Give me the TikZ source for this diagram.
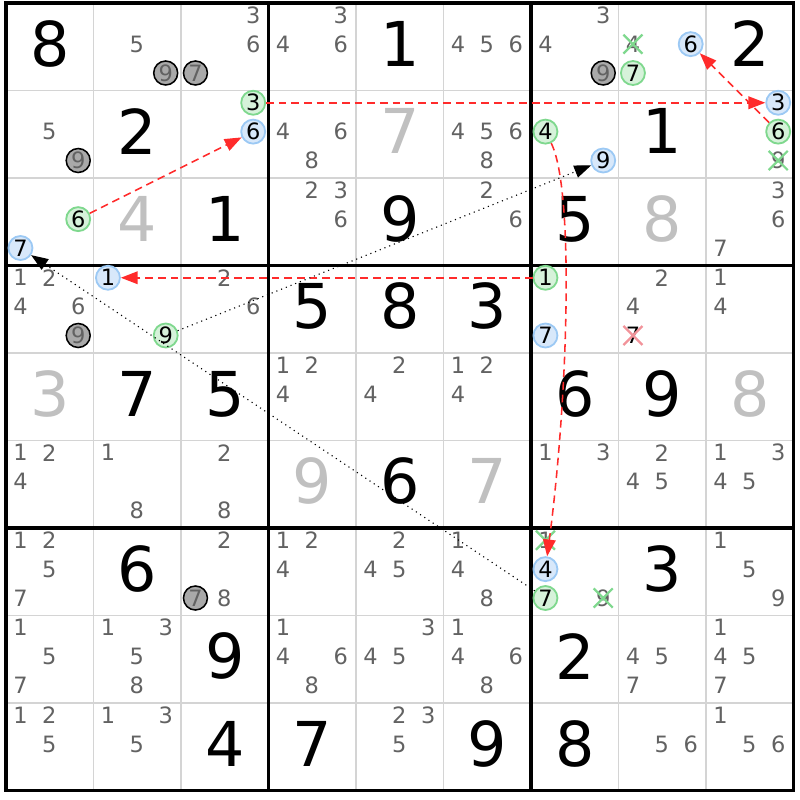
\documentclass[tikz,border=0pt]{standalone}
\usepackage{fontspec}
\setmainfont{DejaVu Sans}
\usetikzlibrary{arrows.meta,shapes.misc}
\definecolor{pencil}{HTML}{626262}
\definecolor{solved}{HTML}{C0C0C0}
\definecolor{gridgray}{HTML}{D4D4D4}
\definecolor{greenline}{HTML}{7FD88E}
\definecolor{greenfill}{HTML}{D6F2DA}
\definecolor{blueline}{HTML}{9CC9F4}
\definecolor{bluefill}{HTML}{D8E8FA}
\definecolor{chaingray}{HTML}{A9A9A9}
\definecolor{linkred}{HTML}{FF2B2B}
\definecolor{crossred}{HTML}{F2939A}
\begin{document}
\begin{tikzpicture}[x=2.1875cm,y=-2.1875cm,
    given/.style={font=\fontsize{44}{44}\selectfont,text=black,inner sep=0pt,yshift=2pt},
    placed/.style={given,text=solved},
    cand/.style={font=\fontsize{16}{16}\selectfont,text=pencil,inner sep=0pt},
    greencand/.style={cand,text=black,circle,draw=greenline,fill=greenfill,line width=1.3pt,minimum size=0.6cm},
    bluecand/.style={greencand,draw=blueline,fill=bluefill},
    graycand/.style={cand,circle,draw=black,fill=chaingray,line width=1.1pt,minimum size=0.6cm},
    greenx/.style={cand,cross out,draw=greenline,line width=1.6pt,minimum size=0.42cm},
    redx/.style={cand,text=black,cross out,draw=crossred,line width=1.6pt,minimum size=0.42cm},
    strong/.style={draw=linkred,line width=1.1pt,dash pattern=on 5.5pt off 3.5pt,-{Triangle[length=12pt,width=9pt]}},
    weak/.style={draw=black,line width=0.8pt,dash pattern=on 0.8pt off 2.8pt,-{Triangle[length=12pt,width=9pt]}}]
  \useasboundingbox (-0.0686,-0.0343) rectangle (9.0743,9.1086);
  % grid
  \foreach \i in {1,2,4,5,7,8} {
    \draw[gridgray,line width=1.4pt] (\i,0) -- (\i,9);
    \draw[gridgray,line width=1.4pt] (0,\i) -- (9,\i);
  }
  \foreach \i in {0,3,6,9} {
    \draw[black,line width=2.2pt] (\i,0) -- (\i,9);
    \draw[black,line width=2.2pt] (0,\i) -- (9,\i);
  }
  \draw[black,line width=2.2pt] (0,0) rectangle (9,9);
  % values
  \foreach \r/\c/\d in {1/1/8,1/5/1,1/9/2,2/2/2,2/8/1,3/3/1,3/5/9,3/7/5,
      4/4/5,4/5/8,4/6/3,5/2/7,5/3/5,5/7/6,5/8/9,6/5/6,7/2/6,7/8/3,
      8/3/9,8/7/2,9/3/4,9/4/7,9/6/9,9/7/8}
    \node[given] (v\r\c) at (\c-0.5,\r-0.5) {\d};
  \foreach \r/\c/\d in {2/5/7,3/2/4,3/8/8,5/1/3,5/9/8,6/4/9,6/6/7}
    \node[placed] (v\r\c) at (\c-0.5,\r-0.5) {\d};
  % candidates
  \foreach \r/\c/\n/\s in {
      1/2/5/cand,1/2/9/graycand,1/3/3/cand,1/3/6/cand,1/3/7/graycand,
      1/4/3/cand,1/4/4/cand,1/4/6/cand,1/6/4/cand,1/6/5/cand,1/6/6/cand,
      1/7/3/cand,1/7/4/cand,1/7/9/graycand,1/8/4/greenx,1/8/6/bluecand,1/8/7/greencand,
      2/1/5/cand,2/1/9/graycand,2/3/3/greencand,2/3/6/bluecand,
      2/4/4/cand,2/4/6/cand,2/4/8/cand,2/6/4/cand,2/6/5/cand,2/6/6/cand,2/6/8/cand,
      2/7/4/greencand,2/7/9/bluecand,2/9/3/bluecand,2/9/6/greencand,2/9/9/greenx,
      3/1/6/greencand,3/1/7/bluecand,3/4/2/cand,3/4/3/cand,3/4/6/cand,
      3/6/2/cand,3/6/6/cand,3/9/3/cand,3/9/6/cand,3/9/7/cand,
      4/1/1/cand,4/1/2/cand,4/1/4/cand,4/1/6/cand,4/1/9/graycand,
      4/2/1/bluecand,4/2/9/greencand,4/3/2/cand,4/3/6/cand,
      4/7/1/greencand,4/7/7/bluecand,4/8/2/cand,4/8/4/cand,4/8/7/redx,
      4/9/1/cand,4/9/4/cand,
      5/4/1/cand,5/4/2/cand,5/4/4/cand,5/5/2/cand,5/5/4/cand,
      5/6/1/cand,5/6/2/cand,5/6/4/cand,
      6/1/1/cand,6/1/2/cand,6/1/4/cand,6/2/1/cand,6/2/8/cand,6/3/2/cand,6/3/8/cand,
      6/7/1/cand,6/7/3/cand,6/8/2/cand,6/8/4/cand,6/8/5/cand,
      6/9/1/cand,6/9/3/cand,6/9/4/cand,6/9/5/cand,
      7/1/1/cand,7/1/2/cand,7/1/5/cand,7/1/7/cand,
      7/3/2/cand,7/3/7/graycand,7/3/8/cand,
      7/4/1/cand,7/4/2/cand,7/4/4/cand,7/5/2/cand,7/5/4/cand,7/5/5/cand,
      7/6/1/cand,7/6/4/cand,7/6/8/cand,
      7/7/1/greenx,7/7/4/bluecand,7/7/7/greencand,7/7/9/greenx,
      7/9/1/cand,7/9/5/cand,7/9/9/cand,
      8/1/1/cand,8/1/5/cand,8/1/7/cand,8/2/1/cand,8/2/3/cand,8/2/5/cand,8/2/8/cand,
      8/4/1/cand,8/4/4/cand,8/4/6/cand,8/4/8/cand,8/5/3/cand,8/5/4/cand,8/5/5/cand,
      8/6/1/cand,8/6/4/cand,8/6/6/cand,8/6/8/cand,8/8/4/cand,8/8/5/cand,8/8/7/cand,
      8/9/1/cand,8/9/4/cand,8/9/5/cand,8/9/7/cand,
      9/1/1/cand,9/1/2/cand,9/1/5/cand,9/2/1/cand,9/2/3/cand,9/2/5/cand,
      9/5/2/cand,9/5/3/cand,9/5/5/cand,9/8/5/cand,9/8/6/cand,
      9/9/1/cand,9/9/5/cand,9/9/6/cand} {
    \pgfmathsetmacro\px{\c-0.835+0.33*mod(\n-1,3)}
    \pgfmathsetmacro\py{\r-0.86+0.33*int((\n-1)/3)}
    \node[\s] (p\r\c\n) at (\px,\py) {\n};
  }
  % links
  \draw[strong] (p316) -- (p236);
  \draw[strong] (p233) -- (p293);
  \draw[strong] (p296) -- (p186);
  \draw[strong] (p274) .. controls (6.5,2.14) and (6.42,4.54) .. (p774);
  \draw[strong] (p471) -- (p421);
  \draw[weak] (p429) -- (p279);
  \draw[weak] (p777) -- (p317);
\end{tikzpicture}
\end{document}
